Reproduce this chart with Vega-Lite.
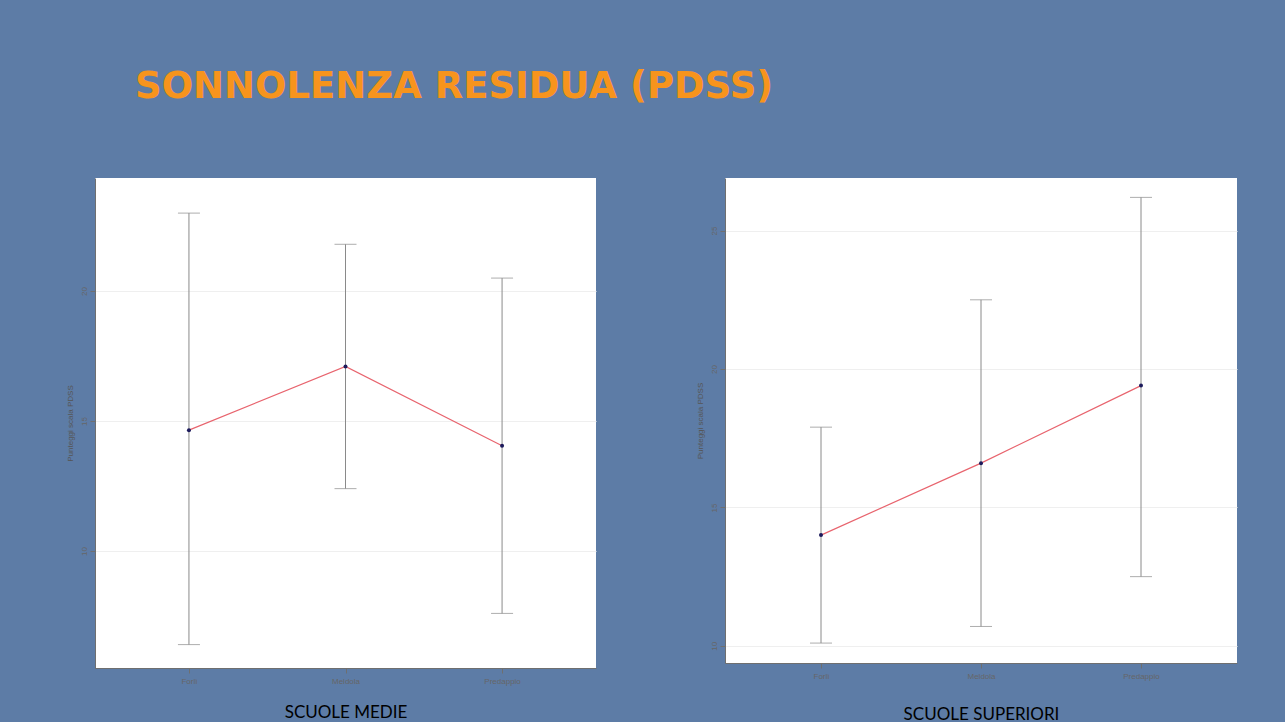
{
  "$schema": "https://vega.github.io/schema/vega-lite/v6.json",
  "background": "#5d7ca6",
  "padding": {"left": 66, "top": 68, "right": 48, "bottom": 10},
  "title": {
    "text": "SONNOLENZA RESIDUA (PDSS)",
    "color": "#f7941d",
    "fontSize": 37,
    "font": "DejaVu Sans",
    "fontWeight": "bold",
    "anchor": "start",
    "dx": 69,
    "offset": 72
  },
  "datasets": {
    "medie": [
      {"scuola": "Forlì", "media": 14.65, "low": 6.4, "high": 23.0},
      {"scuola": "Meldola", "media": 17.1, "low": 12.4, "high": 21.8},
      {"scuola": "Predappio", "media": 14.05, "low": 7.6, "high": 20.5}
    ],
    "superiori": [
      {"scuola": "Forlì", "media": 14.0, "low": 10.1, "high": 17.9},
      {"scuola": "Meldola", "media": 16.6, "low": 10.7, "high": 22.5},
      {"scuola": "Predappio", "media": 19.4, "low": 12.5, "high": 26.2}
    ]
  },
  "spacing": 100,
  "hconcat": [
    {
      "width": 501,
      "height": 490,
      "data": {"name": "medie"},
      "encoding": {
        "x": {
          "field": "scuola",
          "type": "nominal",
          "sort": null,
          "scale": {"type": "point", "padding": 0.6},
          "axis": {"title": "SCUOLE MEDIE", "labelAngle": 0, "titlePadding": 19}
        }
      },
      "layer": [
        {
          "mark": {"type": "rule", "color": "#8a8a8a", "strokeWidth": 1},
          "encoding": {
            "y": {
              "field": "low",
              "type": "quantitative",
              "scale": {"domain": [5.5, 24.35], "nice": false, "zero": false},
              "axis": {"values": [10, 15, 20], "title": "Punteggi scala PDSS"}
            },
            "y2": {"field": "high"}
          }
        },
        {
          "mark": {"type": "tick", "color": "#8a8a8a", "size": 22, "thickness": 1},
          "encoding": {"y": {"field": "low", "type": "quantitative"}}
        },
        {
          "mark": {"type": "tick", "color": "#8a8a8a", "size": 22, "thickness": 1},
          "encoding": {"y": {"field": "high", "type": "quantitative"}}
        },
        {
          "mark": {"type": "line", "color": "#e8646e", "strokeWidth": 1.2},
          "encoding": {"y": {"field": "media", "type": "quantitative"}}
        },
        {
          "mark": {"type": "circle", "color": "#1c1a5c", "size": 16, "opacity": 1},
          "encoding": {"y": {"field": "media", "type": "quantitative"}}
        }
      ]
    },
    {
      "width": 512,
      "height": 485,
      "data": {"name": "superiori"},
      "encoding": {
        "x": {
          "field": "scuola",
          "type": "nominal",
          "sort": null,
          "scale": {"type": "point", "padding": 0.6},
          "axis": {"title": "SCUOLE SUPERIORI", "labelAngle": 0, "titlePadding": 26}
        }
      },
      "layer": [
        {
          "mark": {"type": "rule", "color": "#8a8a8a", "strokeWidth": 1},
          "encoding": {
            "y": {
              "field": "low",
              "type": "quantitative",
              "scale": {"domain": [9.38, 26.9], "nice": false, "zero": false},
              "axis": {"values": [10, 15, 20, 25], "title": "Punteggi scala PDSS"}
            },
            "y2": {"field": "high"}
          }
        },
        {
          "mark": {"type": "tick", "color": "#8a8a8a", "size": 22, "thickness": 1},
          "encoding": {"y": {"field": "low", "type": "quantitative"}}
        },
        {
          "mark": {"type": "tick", "color": "#8a8a8a", "size": 22, "thickness": 1},
          "encoding": {"y": {"field": "high", "type": "quantitative"}}
        },
        {
          "mark": {"type": "line", "color": "#e8646e", "strokeWidth": 1.2},
          "encoding": {"y": {"field": "media", "type": "quantitative"}}
        },
        {
          "mark": {"type": "circle", "color": "#1c1a5c", "size": 16, "opacity": 1},
          "encoding": {"y": {"field": "media", "type": "quantitative"}}
        }
      ]
    }
  ],
  "config": {
    "view": {"fill": "white", "stroke": null},
    "axis": {
      "domainColor": "#6f6f6f",
      "tickColor": "#6f6f6f",
      "labelColor": "#666666",
      "labelFontSize": 8,
      "labelFont": "Liberation Sans",
      "titleFont": "Liberation Sans",
      "titleFontWeight": "normal",
      "gridColor": "#efefef"
    },
    "axisY": {
      "grid": true,
      "labelAngle": -90,
      "labelAlign": "center",
      "labelBaseline": "bottom",
      "titleFontSize": 8,
      "titleColor": "#555555",
      "titlePadding": 6
    },
    "axisX": {
      "grid": false,
      "labelPadding": 4,
      "titleFontSize": 17,
      "titleColor": "#000000",
      "titleFont": "Lato"
    }
  }
}
